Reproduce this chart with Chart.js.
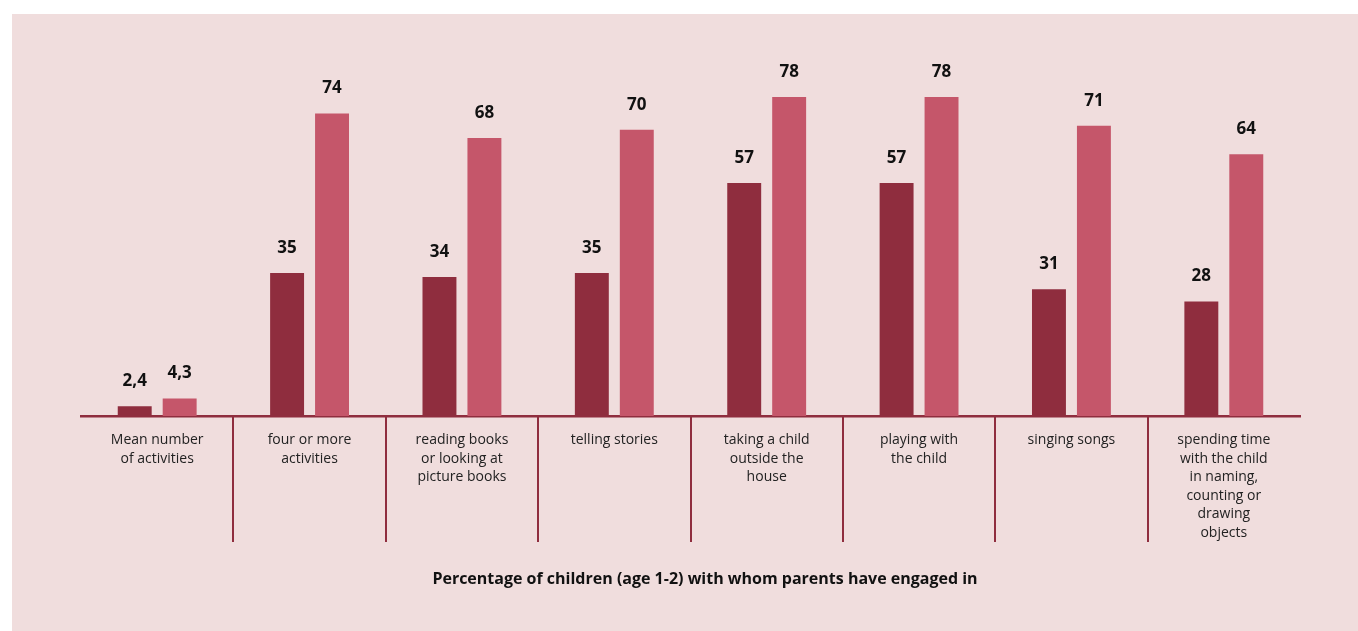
<!DOCTYPE html>
<html>
<head>
<meta charset="utf-8">
<script src="https://cdn.jsdelivr.net/npm/chart.js@4"></script>
<style>
  html, body { margin: 0; padding: 0; background: #ffffff; }
  .wrap { width: 1358px; height: 631px; position: relative; }
</style>
</head>
<body>
<div class="wrap"><canvas id="chart"></canvas></div>
<script>
const categories = [
  ['Mean number', 'of activities'],
  ['four or more', 'activities'],
  ['reading books', 'or looking at', 'picture books'],
  ['telling stories'],
  ['taking a child', 'outside the', 'house'],
  ['playing with', 'the child'],
  ['singing songs'],
  ['spending time', 'with the child', 'in naming,', 'counting or', 'drawing', 'objects'],
];
const seriesDark = [2.4, 35, 34, 35, 57, 57, 31, 28];
const seriesLight = [4.3, 74, 68, 70, 78, 78, 71, 64];
const axisTitle = 'Percentage of children (age 1-2) with whom parents have engaged in';

const DARK = '#8f2d3e';
const LIGHT = '#c5566a';
const PANEL = '#f0dddd';

// pink panel behind everything
const panelBackground = {
  id: 'panelBackground',
  beforeDraw(chart) {
    const { ctx, width, height } = chart;
    ctx.save();
    ctx.fillStyle = PANEL;
    ctx.fillRect(12, 14, width - 12, height - 14);
    ctx.restore();
  },
};

// vertical separators between categories, below the axis
const separators = {
  id: 'separators',
  afterDraw(chart) {
    const { ctx, scales: { x }, chartArea } = chart;
    ctx.save();
    ctx.strokeStyle = DARK;
    ctx.lineWidth = 2;
    for (let i = 1; i < categories.length; i++) {
      const px = Math.round((x.getPixelForValue(i - 1) + x.getPixelForValue(i)) / 2);
      ctx.beginPath();
      ctx.moveTo(px, chartArea.bottom);
      ctx.lineTo(px, chartArea.bottom + 126);
      ctx.stroke();
    }
    ctx.restore();
  },
};

// numbers over bars and the bottom caption
const valueLabels = {
  id: 'valueLabels',
  afterDatasetsDraw(chart) {
    const { ctx } = chart;
    ctx.save();
    ctx.fillStyle = '#111111';
    ctx.font = 'bold 17px "Open Sans", sans-serif';
    ctx.textAlign = 'center';
    ctx.textBaseline = 'middle';
    chart.data.datasets.forEach((ds, di) => {
      chart.getDatasetMeta(di).data.forEach((bar, i) => {
        const txt = String(ds.data[i]).replace('.', ',');
        ctx.fillText(txt, bar.x, bar.y - 25);
      });
    });
    ctx.font = 'bold 16px "Open Sans", sans-serif';
    ctx.fillText(axisTitle, 705, 579);
    ctx.restore();
  },
};

new Chart(document.getElementById('chart'), {
  type: 'bar',
  data: {
    labels: categories,
    datasets: [
      {
        label: 'dark',
        data: seriesDark,
        backgroundColor: DARK,
        categoryPercentage: 0.59,
        barPercentage: 0.755,
      },
      {
        label: 'light',
        data: seriesLight,
        backgroundColor: LIGHT,
        categoryPercentage: 0.59,
        barPercentage: 0.755,
      },
    ],
  },
  options: {
    responsive: true,
    maintainAspectRatio: false,
    animation: false,
    layout: {
      padding: { left: 81, right: 58, top: 48, bottom: 0 },
    },
    scales: {
      x: {
        grid: { display: false, drawTicks: false },
        border: { color: DARK, width: 2.5 },
        afterFit: (scale) => {
          scale.height = 215;
        },
        ticks: {
          autoSkip: false,
          maxRotation: 0,
          padding: 15,
          color: '#222222',
          font: {
            size: 14,
            lineHeight: 1.32,
            family: '"Open Sans", sans-serif',
          },
        },
      },
      y: {
        display: false,
        min: 0,
        max: 90,
      },
    },
    plugins: {
      legend: { display: false },
      tooltip: { enabled: false },
    },
  },
  plugins: [panelBackground, separators, valueLabels],
});
</script>
</body>
</html>
